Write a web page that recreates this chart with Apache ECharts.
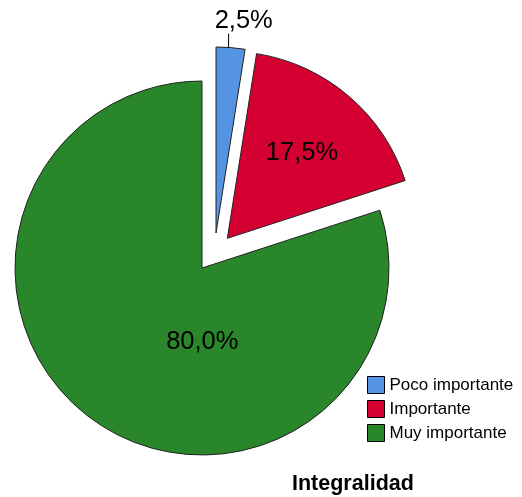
<!DOCTYPE html>
<html><head><meta charset="utf-8">
<script src="https://cdn.jsdelivr.net/npm/echarts@6/dist/echarts.min.js"></script>
<style>html,body{margin:0;padding:0;background:#fff}#c{width:522px;height:497px}</style>
</head><body><div id="c"></div>
<script>
const categories = ['Poco importante', 'Importante', 'Muy importante'];
const values = [2.5, 17.5, 80.0];
const colors = ['#5594e2', '#d50032', '#2a862a'];
const chartTitle = 'Integralidad';

const FONT = '"Liberation Sans", Arial, sans-serif';
function fmt(v) { return v.toFixed(1).replace('.', ',') + '%'; }

const hidden = {
  itemStyle: { color: 'transparent', borderWidth: 0 },
  label: { show: false }, labelLine: { show: false },
  emphasis: { disabled: true }
};

// main series: red (exploded) + green; blue drawn in its own series
const mainData = categories.map((c, i) => {
  const d = { name: c, value: values[i] };
  if (i === 0) Object.assign(d, JSON.parse(JSON.stringify(hidden)));
  else d.itemStyle = { color: colors[i] };
  if (i === 1) d.selected = true;
  return d;
});
const blueData = categories.map((c, i) => {
  const d = { name: c, value: values[i] };
  if (i !== 0) Object.assign(d, JSON.parse(JSON.stringify(hidden)));
  else d.itemStyle = { color: colors[i] };
  return d;
});

const chart = echarts.init(document.getElementById('c'), null, { renderer: 'canvas' });
chart.setOption({
  animation: false,
  backgroundColor: '#fff',
  title: {
    text: chartTitle, left: 292, top: 473, padding: 0,
    textStyle: { fontFamily: FONT, fontSize: 21.5, fontWeight: 'bold', color: '#000' }
  },
  legend: {
    orient: 'vertical', left: 367, top: 376, padding: 0,
    itemWidth: 17, itemHeight: 17, itemGap: 6, icon: 'rect',
    selectedMode: false,
    textStyle: { fontFamily: FONT, fontSize: 17, lineHeight: 17, color: '#000' },
    data: categories.map((c, i) => ({
      name: c,
      itemStyle: { color: colors[i], borderColor: '#000', borderWidth: 1, opacity: 1 }
    }))
  },
  series: [
    {
      type: 'pie', name: 'main',
      center: [202, 268], radius: 187, startAngle: 90, clockwise: true,
      avoidLabelOverlap: false,
      selectedMode: 'multiple', selectedOffset: 39,
      itemStyle: { borderColor: '#222', borderWidth: 1 },
      label: {
        show: true, position: 'inside', color: '#000',
        fontFamily: FONT, fontSize: 25.5,
        formatter: p => fmt(p.value)
      },
      labelLayout: p => {
        if (p.dataIndex === 2) return { dx: 57, dy: -4 };
        if (p.dataIndex === 1) return { dx: 12, dy: -12 };
        return {};
      },
      emphasis: { disabled: true },
      data: mainData
    },
    {
      type: 'pie', name: 'blue',
      center: [216, 233], radius: 186, startAngle: 90, clockwise: true,
      avoidLabelOverlap: false,
      itemStyle: { borderColor: '#222', borderWidth: 1 },
      label: {
        show: true, position: 'outside', color: '#000',
        fontFamily: FONT, fontSize: 25.5,
        padding: [0, 0, 0, 14],
        formatter: p => fmt(p.value)
      },
      labelLine: { show: true, length: 14, length2: 0, lineStyle: { color: '#000', width: 1 } },
      labelLayout: p => {
        if (p.dataIndex === 0) {
          const out = { align: 'center', verticalAlign: 'bottom' };
          const pts = p.labelLinePoints;
          if (pts && pts.length >= 2) {
            const x0 = pts[0][0] - 2, y0 = pts[0][1], y1 = pts[1][1];
            out.labelLinePoints = [[x0, y0], [x0, y1], [x0, y1]];
          }
          return out;
        }
        return {};
      },
      emphasis: { disabled: true },
      data: blueData
    }
  ]
});
</script>
</body></html>
